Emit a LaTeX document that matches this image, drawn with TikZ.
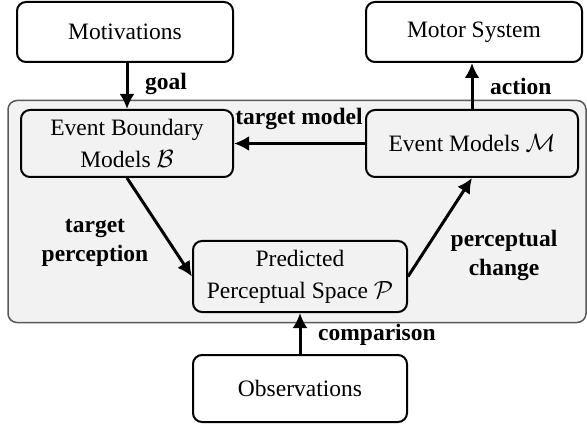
\documentclass[tikz,border=0pt]{standalone}
\usepackage{fontspec}
\setmainfont{Liberation Serif}
\usetikzlibrary{arrows.meta}
\begin{document}
\begin{tikzpicture}[x=1pt,y=-1pt,
  font=\fontsize{23.5}{32}\selectfont,
  box/.style={draw=black,line width=2pt,rounded corners=9pt,align=center,inner sep=0pt},
  wbox/.style={box,fill=white},
  gbox/.style={box,fill=gray!10},
  conn/.style={line width=3pt,-{Latex[length=15pt,width=15pt]}},
  lab/.style={font=\fontsize{23.5}{29}\selectfont\bfseries,inner sep=0pt,align=center}]
\useasboundingbox (0,0) rectangle (587,425);
\node[draw=black!65,line width=1.5pt,fill=gray!10,rounded corners=9pt,minimum width=578pt,minimum height=222pt,inner sep=0pt] (panel) at (297,211.5) {};
\node[wbox,minimum width=216pt,minimum height=60pt] (mot) at (125,32) {Motivations};
\node[wbox,minimum width=216pt,minimum height=60pt] (motor) at (474,32) {Motor System};
\node[gbox,minimum width=212pt,minimum height=67pt] (ebm) at (127,143.5) {Event Boundary\\Models $\mathcal{B}$};
\node[gbox,minimum width=212pt,minimum height=67pt] (em) at (472,143.5) {Event Models $\mathcal{M}$};
\node[gbox,minimum width=214pt,minimum height=71pt] (pps) at (300,276.5) {Predicted\\Perceptual Space $\mathcal{P}$};
\node[wbox,minimum width=214pt,minimum height=67pt] (obs) at (300,388.5) {Observations};
\draw[conn] (mot.south -| ebm.north) -- (ebm.north);
\draw[conn] (em.north) -- (em.north |- motor.south);
\draw[conn] (em.west) -- (ebm.east);
\draw[conn] (ebm.south) -- (pps.west);
\draw[conn] (pps.east) -- (em.south);
\draw[conn] (obs.north) -- (pps.south);
\node[lab,anchor=west] (lgoal) at (145,84) {goal};
\node[lab,anchor=west] (laction) at (490,86) {action};
\node[lab] (ltm) at (299,119) {target model};
\node[lab] (ltp) at (95,243) {target\\perception};
\node[lab] (lpc) at (504,255) {perceptual\\change};
\node[lab,anchor=west] (lcmp) at (318,335) {comparison};
\end{tikzpicture}
\end{document}
